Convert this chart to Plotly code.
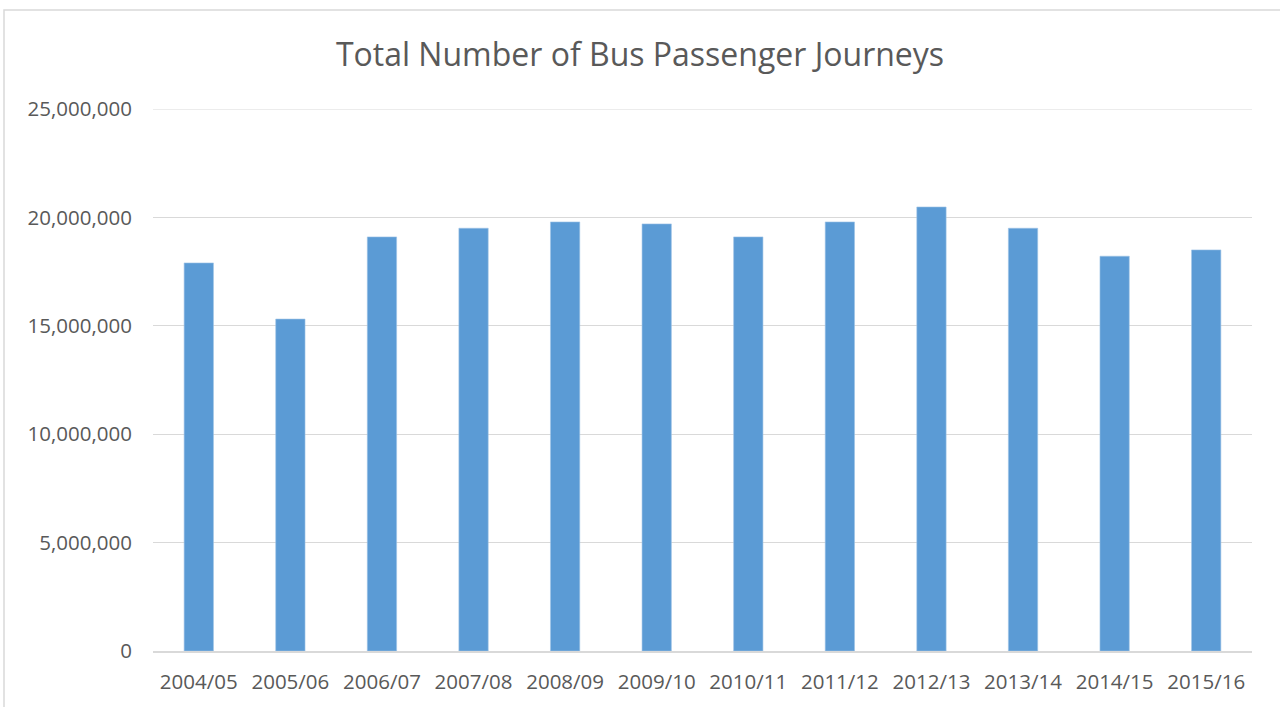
import plotly.graph_objects as go

categories = ["2004/05", "2005/06", "2006/07", "2007/08", "2008/09", "2009/10",
              "2010/11", "2011/12", "2012/13", "2013/14", "2014/15", "2015/16"]
journeys = [17900000, 15310000, 19100000, 19500000, 19790000, 19700000,
            19100000, 19790000, 20480000, 19500000, 18210000, 18500000]
y_ticks = [0, 5000000, 10000000, 15000000, 20000000, 25000000]
y_tick_labels = ["0", "5,000,000", "10,000,000", "15,000,000", "20,000,000", "25,000,000"]

W, H = 1280, 707
ml, mr, mt, mb = 153, 28, 109, 56
pw, ph = W - ml - mr, H - mt - mb

fig = go.Figure(go.Bar(x=categories, y=journeys, marker_color="#5B9BD5",
                       marker_line=dict(color="#9DC3E6", width=0.6)))

fig.update_layout(
    width=W, height=H,
    margin=dict(l=ml, r=mr, t=mt, b=mb, pad=0),
    paper_bgcolor="white", plot_bgcolor="white",
    bargap=0.68,
    showlegend=False,
    font=dict(family="Open Sans", color="#595959"),
    title=dict(text="Total Number of Bus Passenger Journeys", x=0.5, xref="container",
               xanchor="center", y=1 - 55 / H, yanchor="middle",
               font=dict(size=32, color="#595959", family="Open Sans")),
    xaxis=dict(showgrid=False, showline=True, linecolor="#D9D9D9", linewidth=1.5,
               ticks="", tickfont=dict(size=20.5, color="#595959"), ticklabelstandoff=12),
    yaxis=dict(range=[0, y_ticks[-1]], tickvals=y_ticks, ticktext=y_tick_labels,
               showgrid=True, gridcolor="#D9D9D9", gridwidth=1.2, zeroline=False,
               showline=False, ticks="", tickfont=dict(size=20.5, color="#595959"),
               ticklabelstandoff=20),
)

# top gridline (at the range edge)
fig.add_shape(type="line", xref="paper", yref="y", x0=0, x1=1,
              y0=y_ticks[-1], y1=y_ticks[-1],
              line=dict(color="#D9D9D9", width=1.2), layer="below")

# outer chart frame
fig.add_shape(type="rect", xref="paper", yref="paper",
              x0=(4 - ml) / pw, x1=(W + 5 - ml) / pw,
              y0=(H - mb - (H + 5)) / ph, y1=(H - mb - 10) / ph,
              line=dict(color="#D9D9D9", width=1.5), fillcolor="rgba(0,0,0,0)", layer="below")

fig.write_html("out.html", config={"displayModeBar": False},
               post_script="document.body.style.margin='0';document.body.style.overflow='hidden';")
